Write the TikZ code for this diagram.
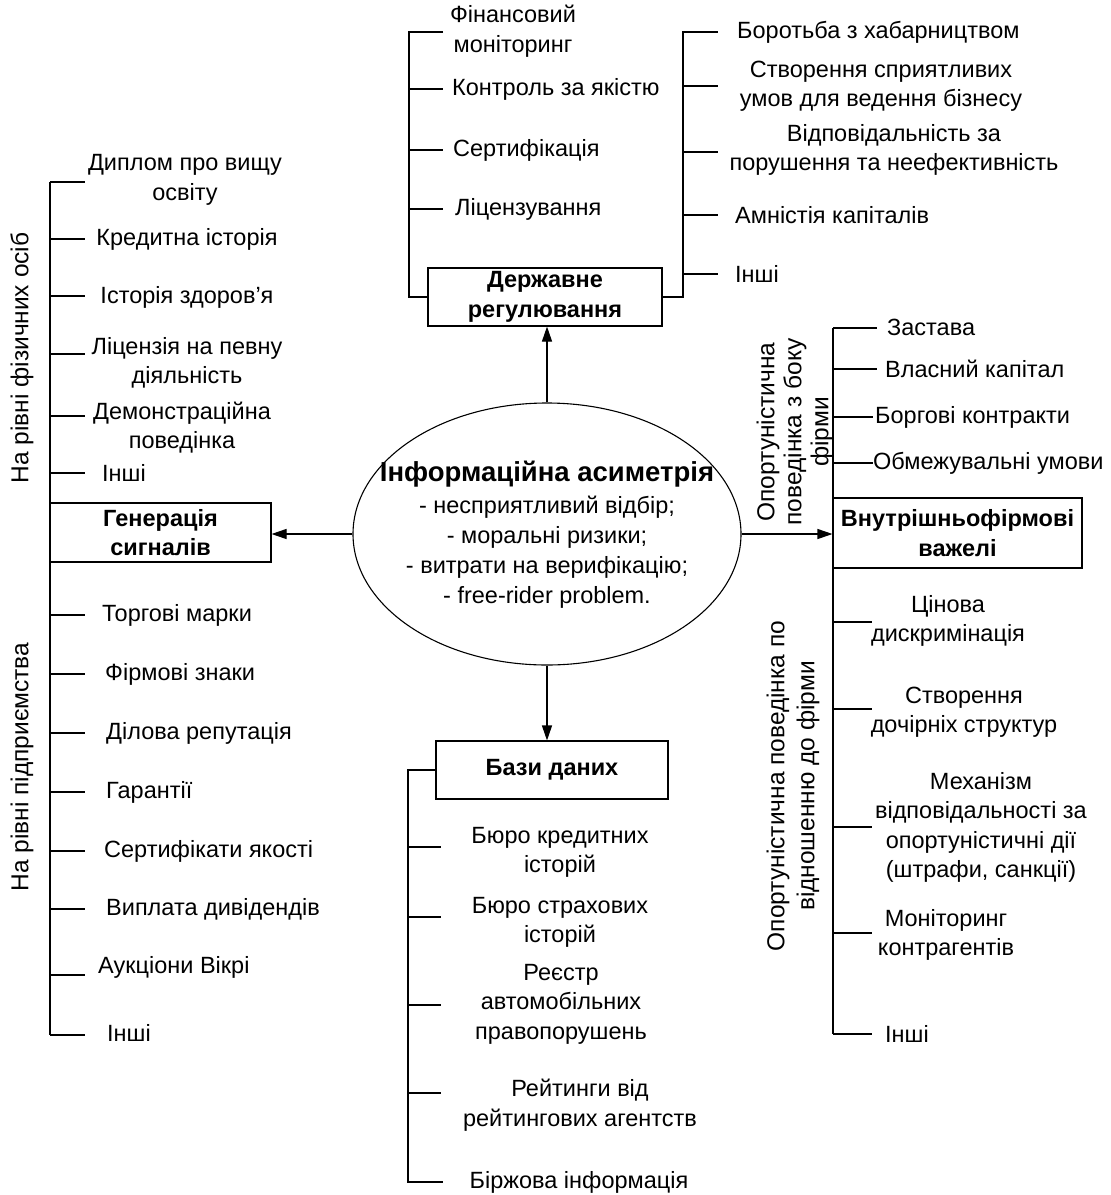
\documentclass[tikz,border=0pt]{standalone}
\usepackage{fontspec}
\setmainfont{Liberation Sans}
\usetikzlibrary{arrows.meta,shapes.geometric}
\newcommand\fsn{\fontsize{23.5}{29.5}\selectfont}
\newcommand\fsr{\fontsize{24.5}{29.5}\selectfont}
\begin{document}
\begin{tikzpicture}[x=1pt,y=-1pt,
  every node/.style={font=\fsn, inner sep=0pt},
  lbl/.style={align=center},
  bx/.style={draw, line width=1.1pt, font=\fsn\bfseries, align=center},
  ln/.style={line width=1.1pt},
  arr/.style={line width=1.1pt, -{Triangle[length=15pt,width=10pt]}}]
\useasboundingbox (0,0) rectangle (1111,1195);

% central ellipse
\node[draw, ellipse, ln, minimum width=388pt, minimum height=262pt] (ia) at (547,534) {};
\node[font=\fontsize{27.5}{30}\selectfont\bfseries] (iat) at (547,474) {Інформаційна асиметрія};
\node[lbl, font=\fontsize{23.5}{30}\selectfont] (ial) at (547,552) {- несприятливий відбір;\\- моральні ризики;\\- витрати на верифікацію;\\- free-rider problem.};

% boxes
\node[bx, minimum width=234pt, minimum height=58pt] (dr) at (545,297) {Державне\\регулювання};
\node[bx, minimum width=221pt, minimum height=59pt] (gs) at (160.5,532.5) {Генерація\\сигналів};
\node[bx, minimum width=249pt, minimum height=70pt] (vv) at (957.5,533) {Внутрішньофірмові\\важелі};
\node[bx, minimum width=232pt, minimum height=58pt] (bd) at (552,770) {Бази даних};

% arrows
\draw[arr] (ia.north) -- (ia.north |- dr.south);
\draw[arr] (ia.south) -- (ia.south |- bd.north);
\draw[arr] (ia.west) -- (ia.west -| gs.east);
\draw[arr] (ia.east) -- (ia.east -| vv.west);

% left spine
\draw[ln] (50,182) -- (50,1035);
\foreach \yy in {182,239,296,354,416,473,615,674,733,792,851,909,975,1035}
  \draw[ln] (50,\yy) -- (85,\yy);
\node[lbl] (l1) at (185,180) {Диплом про вищу\\освіту};
\node (l2) at (187,239) {Кредитна історія};
\node (l3) at (187,297) {Історія здоров’я};
\node[lbl] (l4) at (187,363) {Ліцензія на певну\\діяльність};
\node[lbl] (l5) at (182,427.5) {Демонстраційна\\поведінка};
\node[anchor=west] (l6) at (102,473) {Інші};
\node[anchor=west] (m1) at (102,615) {Торгові марки};
\node[anchor=west] (m2) at (105,674) {Фірмові знаки};
\node[anchor=west] (m3) at (106,733) {Ділова репутація};
\node[anchor=west] (m4) at (106,792) {Гарантії};
\node[anchor=west] (m5) at (104,851) {Сертифікати якості};
\node[anchor=west] (m6) at (106,909) {Виплата дивідендів};
\node[anchor=west] (m7) at (98,967) {Аукціони Вікрі};
\node[anchor=west] (m8) at (107,1033) {Інші};
\node[rotate=90, font=\fsr] (rl1) at (22,358) {На рівні фізичних осіб};
\node[rotate=90, font=\fsr] (rl2) at (22,767) {На рівні підприємства};

% top brackets
\draw[ln] (443,32) -- (409,32) -- (409,297) -- (dr.west);
\foreach \yy in {89,150,209}
  \draw[ln] (409,\yy) -- (443,\yy);
\node[lbl] (t1) at (513,31) {Фінансовий\\моніторинг};
\node[anchor=west] (t2) at (452,89) {Контроль за якістю};
\node[anchor=west] (t3) at (453,150) {Сертифікація};
\node[anchor=west] (t4) at (455,209) {Ліцензування};

\draw[ln] (dr.east) -- (683,297) -- (683,32) -- (718,32);
\foreach \yy in {86,152,215,274}
  \draw[ln] (683,\yy) -- (718,\yy);
\node[anchor=west] (u1) at (737,32) {Боротьба з хабарництвом};
\node[lbl] (u2) at (881,86) {Створення сприятливих\\умов для ведення бізнесу};
\node[lbl] (u3) at (894,150) {Відповідальність за\\порушення та неефективність};
\node[anchor=west] (u4) at (735,215) {Амністія капіталів};
\node[anchor=west] (u5) at (735,274) {Інші};

% right spine
\draw[ln] (833,328) -- (833,1034);
\draw[ln] (833,328) -- (877,328);
\draw[ln] (833,369) -- (877,369);
\draw[ln] (833,417) -- (873,417);
\draw[ln] (833,463) -- (873,463);
\foreach \yy in {622,709,827,933,1034}
  \draw[ln] (833,\yy) -- (872,\yy);
\node[anchor=west] (r1) at (887,327) {Застава};
\node[anchor=west] (r2) at (885,369) {Власний капітал};
\node[anchor=west] (r3) at (875,417) {Боргові контракти};
\node[anchor=west] (r4) at (873,463) {Обмежувальні умови};
\node[lbl] (s1) at (948,621) {Цінова\\дискримінація};
\node[lbl] (s2) at (964,712) {Створення\\дочірніх структур};
\node[lbl] (s3) at (981,827.5) {Механізм\\відповідальності за\\опортуністичні дії\\(штрафи, санкції)};
\node[lbl] (s4) at (946,935) {Моніторинг\\контрагентів};
\node[anchor=west] (s5) at (885,1034) {Інші};
\node[lbl, rotate=90, font=\fontsize{24.5}{27}\selectfont] (rr1) at (795,432) {Опортуністична\\поведінка з боку\\фірми};
\node[lbl, rotate=90, font=\fontsize{24.5}{30}\selectfont] (rr2) at (793,786) {Опортуністична поведінка по\\відношенню до фірми};

% bottom bracket
\draw[ln] (bd.west) -- (408,770) -- (408,1182) -- (443,1182);
\foreach \yy in {847,917,1005,1093}
  \draw[ln] (408,\yy) -- (441,\yy);
\node[lbl] (b1) at (560,852.5) {Бюро кредитних\\історій};
\node[lbl] (b2) at (560,922.5) {Бюро страхових\\історій};
\node[lbl] (b3) at (561,1004) {Реєстр\\автомобільних\\правопорушень};
\node[lbl] (b4) at (580,1105) {Рейтинги від\\рейтингових агентств};
\node (b5) at (579,1182) {Біржова інформація};
\end{tikzpicture}
\end{document}
